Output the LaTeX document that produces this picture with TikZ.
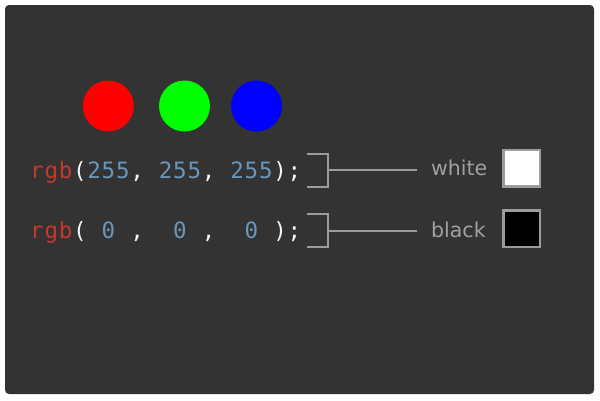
\documentclass[tikz,border=0pt]{standalone}
\usepackage{fontspec}
\setmainfont{DejaVu Sans}
\newfontfamily\codefont[LetterSpace=3.5]{DejaVu Sans Mono}
\definecolor{panelbg}{HTML}{333333}
\definecolor{codered}{HTML}{C8372D}
\definecolor{codewhite}{HTML}{F5F5F5}
\definecolor{codeblue}{HTML}{6897BB}
\definecolor{labelgray}{HTML}{A0A0A0}
\definecolor{linegray}{HTML}{9C9C9C}
\begin{document}
\begin{tikzpicture}[x=1pt,y=-1pt,
  panel/.style={fill=panelbg,rounded corners=4pt},
  dot/.style={circle,minimum size=51pt,inner sep=0pt},
  code/.style={anchor=base west,inner sep=0pt,font=\codefont\fontsize{22.5}{26}\selectfont},
  tag/.style={anchor=base west,inner sep=0pt,text=labelgray,font=\fontsize{20.5}{24}\selectfont},
  swatch/.style={draw=linegray,line width=2.5pt,minimum size=36.5pt,inner sep=0pt},
  bracket/.style={draw=linegray,line width=2pt},
]
\useasboundingbox (0,0) rectangle (600,400);
\fill[white] (0,0) rectangle (600,400);
\path[panel] (5,5) rectangle (594,394);

% colour dots
\node[dot,fill=red]        (dotr) at (108.3,106) {};
\node[dot,fill={rgb,255:red,0;green,255;blue,0}] (dotg) at (184.5,106) {};
\node[dot,fill=blue]       (dotb) at (256.5,106) {};

% code lines, set on a fixed column grid
\def\colw{14.3}
\foreach \col/\clr/\txt [count=\k] in {0/codered/rgb, 3/codewhite/(, 4/codeblue/255,
    7/codewhite/{,}, 9/codeblue/255, 12/codewhite/{,}, 14/codeblue/255, 17/codewhite/{);}}
  \node[code,text=\clr] (ca\k) at ({30+\colw*\col},178) {\txt};
\foreach \col/\clr/\txt [count=\k] in {0/codered/rgb, 3/codewhite/(, 5/codeblue/0,
    7/codewhite/{,}, 10/codeblue/0, 12/codewhite/{,}, 15/codeblue/0, 17/codewhite/{);}}
  \node[code,text=\clr] (cb\k) at ({30+\colw*\col},238) {\txt};

% brackets and leader lines
\coordinate (bwtop) at (307,153.5);
\coordinate (bwbot) at (307,187);
\coordinate (bwmid) at (328,170);
\coordinate (bwend) at (417,170);
\draw[bracket] (bwtop) -- ++(21,0) |- (bwbot);
\draw[bracket] (bwmid) -- (bwend);

\coordinate (bbtop) at (307,214);
\coordinate (bbbot) at (307,247);
\coordinate (bbmid) at (328,230.5);
\coordinate (bbend) at (417,230.5);
\draw[bracket] (bbtop) -- ++(21,0) |- (bbbot);
\draw[bracket] (bbmid) -- (bbend);

% labels and swatches
\node[tag] (lw) at (431,175) {white};
\node[tag] (lb) at (431,237) {black};
\node[swatch,fill=white] (sw) at (521.5,168) {};
\node[swatch,fill=black] (sb) at (521.5,228.8) {};
\end{tikzpicture}
\end{document}
